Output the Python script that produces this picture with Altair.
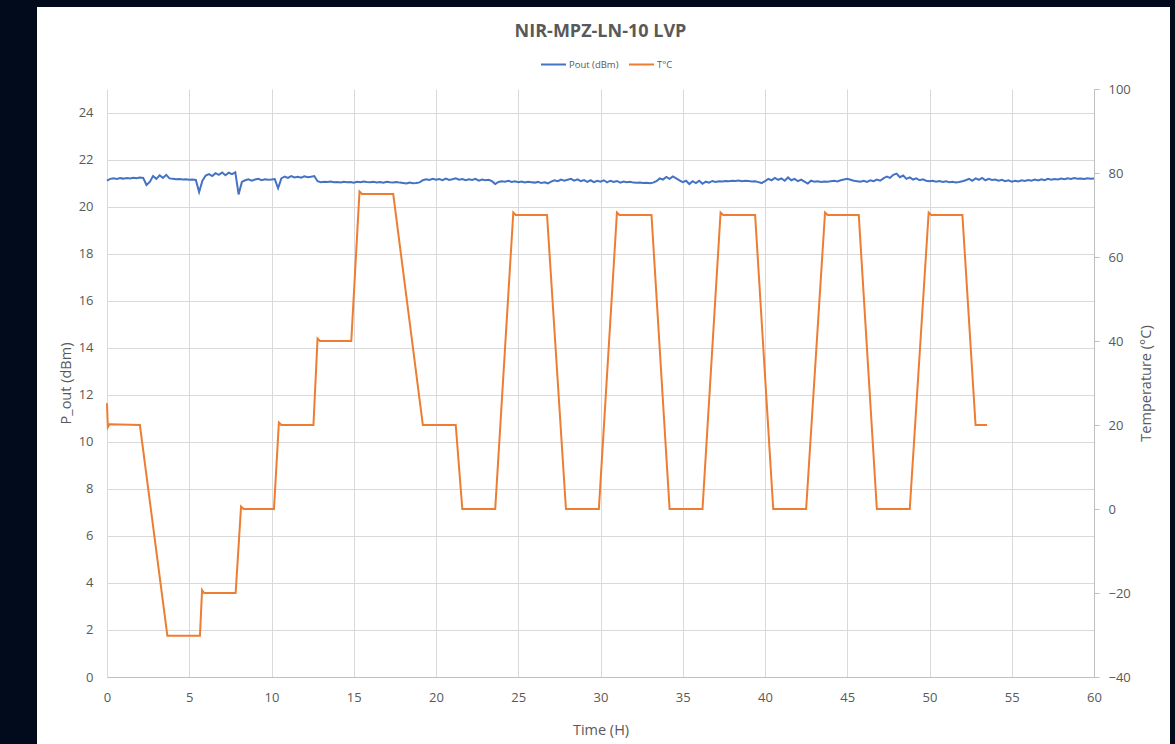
import altair as alt
import pandas as pd

# ---------------- data ----------------
title_text = "NIR-MPZ-LN-10 LVP"
series_names = ["Pout (dBm)", "T°C"]
series_colors = ["#4472C4", "#ED7D31"]

time_ticks = [0, 5, 10, 15, 20, 25, 30, 35, 40, 45, 50, 55, 60]
pout_ticks = [0, 2, 4, 6, 8, 10, 12, 14, 16, 18, 20, 22, 24]
temp_ticks = [-40, -20, 0, 20, 40, 60, 80, 100]

# Pout samples, one every 0.2 h from t = 0 to t = 60
pout_step_h = 0.2
pout_values = [
    21.10, 21.18, 21.20, 21.17, 21.21, 21.19, 21.22, 21.20, 21.23, 21.21,
    21.24, 21.22, 20.92, 21.05, 21.30, 21.18, 21.33, 21.22, 21.35, 21.20,
    21.18, 21.16, 21.17, 21.15, 21.16, 21.14, 21.15, 21.13, 20.62, 21.10,
    21.32, 21.38, 21.30, 21.42, 21.35, 21.45, 21.33, 21.44, 21.38, 21.46,
    20.52, 21.05, 21.12, 21.16, 21.10, 21.15, 21.18, 21.12, 21.16, 21.14,
    21.15, 21.17, 20.78, 21.20, 21.28, 21.22, 21.30, 21.24, 21.27, 21.23,
    21.29, 21.25, 21.27, 21.30, 21.08, 21.04, 21.06, 21.05, 21.07, 21.04,
    21.05, 21.03, 21.06, 21.04, 21.05, 21.02, 21.06, 21.04, 21.07, 21.05,
    21.04, 21.06, 21.03, 21.05, 21.02, 21.06, 21.04, 21.03, 21.05, 21.02,
    21.00, 20.98, 21.02, 20.99, 21.00, 21.03, 21.12, 21.16, 21.13, 21.18,
    21.14, 21.17, 21.12, 21.19, 21.13, 21.16, 21.20, 21.14, 21.17, 21.12,
    21.16, 21.13, 21.18, 21.10, 21.15, 21.12, 21.14, 21.08, 20.96, 21.05,
    21.08, 21.06, 21.10, 21.05, 21.08, 21.04, 21.07, 21.03, 21.06, 21.04,
    21.02, 21.05, 21.00, 21.03, 20.99, 21.06, 21.12, 21.08, 21.15, 21.10,
    21.14, 21.18, 21.10, 21.16, 21.08, 21.13, 21.05, 21.12, 21.04, 21.10,
    21.06, 21.12, 21.03, 21.10, 21.05, 21.09, 21.02, 21.07, 21.04, 21.06,
    21.02, 21.01, 21.02, 21.00, 21.01, 20.99, 21.02, 21.08, 21.20, 21.15,
    21.26, 21.18, 21.28, 21.20, 21.12, 21.04, 21.10, 20.96, 21.08, 21.00,
    21.10, 20.97, 21.06, 21.02, 21.09, 21.05, 21.08, 21.07, 21.09, 21.08,
    21.10, 21.09, 21.11, 21.08, 21.10, 21.09, 21.07, 21.08, 21.04, 21.00,
    21.08, 21.18, 21.12, 21.22, 21.14, 21.20, 21.10, 21.24, 21.12, 21.18,
    21.08, 21.15, 21.06, 20.98, 21.10, 21.06, 21.08, 21.05, 21.07, 21.06,
    21.08, 21.10, 21.07, 21.12, 21.15, 21.18, 21.14, 21.10, 21.08, 21.06,
    21.10, 21.05, 21.12, 21.08, 21.15, 21.10, 21.20, 21.28, 21.22, 21.35,
    21.40, 21.25, 21.32, 21.18, 21.24, 21.15, 21.20, 21.12, 21.16, 21.10,
    21.08, 21.10, 21.06, 21.09, 21.05, 21.08, 21.04, 21.06, 21.03, 21.05,
    21.08, 21.12, 21.18, 21.10, 21.20, 21.14, 21.22, 21.12, 21.18, 21.13,
    21.15, 21.10, 21.14, 21.08, 21.12, 21.06, 21.10, 21.07, 21.12, 21.09,
    21.13, 21.10, 21.15, 21.11, 21.16, 21.12, 21.18, 21.14, 21.17, 21.15,
    21.19, 21.16, 21.20, 21.17, 21.21, 21.18, 21.19, 21.17, 21.20, 21.18,
    21.19,
]

# Temperature profile (time in h, temperature in °C)
temp_time = [
    0.0, 0.05, 0.15, 2.0, 3.67, 5.65, 5.78, 5.9, 7.82, 8.15, 8.3, 10.15,
    10.45, 10.6, 12.55, 12.8, 12.95, 14.85, 15.35, 15.5, 17.4, 19.2, 21.2,
    21.6, 23.6, 24.7, 24.85, 26.75, 27.9, 29.9, 31.0, 31.15, 33.1, 34.2,
    36.2, 37.3, 37.45, 39.4, 40.5, 42.5, 43.65, 43.8, 45.7, 46.8, 48.8,
    49.95, 50.1, 52.0, 52.8, 53.5,
]
temp_value = [
    25.2, 19.5, 20.2, 20.0, -30.2, -30.2, -19.3, -20.0, -20.0, 0.6, 0.0, 0.0,
    20.6, 20.0, 20.0, 40.6, 40.0, 40.0, 75.6, 75.0, 75.0, 20.0, 20.0,
    0.0, 0.0, 70.6, 70.0, 70.0, 0.0, 0.0, 70.6, 70.0, 70.0, 0.0,
    0.0, 70.6, 70.0, 70.0, 0.0, 0.0, 70.6, 70.0, 70.0, 0.0, 0.0,
    70.6, 70.0, 70.0, 20.0, 20.0,
]

# ---------------- styling ----------------
TXT = "#595959"
GRID = "#D9D9D9"
AXIS_LINE = "#BFBFBF"
DARK = "#020B1C"
FONT = "Open Sans"
W, H = 987, 588

pout_df = pd.DataFrame({
    "t": [i * pout_step_h for i in range(len(pout_values))],
    "p": pout_values,
    "series": series_names[0],
})
temp_df = pd.DataFrame({"t": temp_time, "temp": temp_value, "series": series_names[1]})

color_scale = alt.Scale(domain=series_names, range=series_colors)
legend = alt.Legend(
    title=None, orient="none", legendX=433, legendY=-38, direction="horizontal",
    symbolType="stroke", symbolSize=625, symbolStrokeWidth=2,
    labelFontSize=9.5, labelColor=TXT, labelFont=FONT, labelOffset=2,
    columnPadding=6,
)

x_enc = alt.X(
    "t:Q",
    scale=alt.Scale(domain=[0, 60], nice=False, zero=False),
    axis=alt.Axis(
        values=time_ticks, title="Time (H)", grid=True, gridColor=GRID,
        domain=True, domainColor=AXIS_LINE, ticks=False, tickSize=0,
        labelPadding=14, labelFlush=False, labelFontSize=13,
        titleY=53, titleBaseline="middle", titleFontSize=14.5,
    ),
)

pout_line = alt.Chart(pout_df).mark_line(strokeWidth=2).encode(
    x=x_enc,
    y=alt.Y(
        "p:Q",
        scale=alt.Scale(domain=[0, 25], nice=False, zero=False),
        axis=alt.Axis(
            orient="left", values=pout_ticks, title="P_out (dBm)",
            grid=True, gridColor=GRID, domain=False, ticks=False, tickSize=0,
            labelPadding=14, labelFontSize=13,
            titleX=-41, titleY=H / 2, titleBaseline="middle", titleAngle=270,
            titleFontSize=14.5,
        ),
    ),
    color=alt.Color("series:N", scale=color_scale, legend=legend),
)

temp_line = alt.Chart(temp_df).mark_line(strokeWidth=2).encode(
    x=x_enc,
    y=alt.Y(
        "temp:Q",
        scale=alt.Scale(domain=[-40, 100], nice=False, zero=False),
        axis=alt.Axis(
            orient="right", values=temp_ticks, title="Temperature (°C)",
            grid=False, domain=True, domainColor=AXIS_LINE, ticks=True,
            tickSize=5, tickColor=AXIS_LINE, labelPadding=9, labelFontSize=13,
            titleX=52, titleY=H / 2, titleBaseline="middle", titleAngle=270,
            titleFontSize=14.5,
        ),
    ),
    color=alt.Color("series:N", scale=color_scale, legend=legend),
)

# dark frame around the white chart panel (decoration only)
frame_df = pd.DataFrame({"k": [0]})
left_strip = alt.Chart(frame_df).mark_rect(color=DARK).encode(
    x=alt.value(-107), x2=alt.value(-70), y=alt.value(-89), y2=alt.value(H + 67))
top_strip = alt.Chart(frame_df).mark_rect(color=DARK).encode(
    x=alt.value(-107), x2=alt.value(W + 81), y=alt.value(-89), y2=alt.value(-82))
right_strip = alt.Chart(frame_df).mark_rect(color=DARK).encode(
    x=alt.value(W + 76), x2=alt.value(W + 81), y=alt.value(-89), y2=alt.value(H + 67))

left_layer = alt.layer(left_strip, top_strip, right_strip, pout_line)

chart = (
    alt.layer(left_layer, temp_line)
    .resolve_scale(y="independent")
    .properties(
        width=W, height=H,
        padding={"left": 107, "top": 89, "right": 81, "bottom": 67},
        autosize=alt.AutoSizeParams(type="none"),
        background="#FFFFFF",
        title=alt.TitleParams(
            text=title_text, anchor="middle", frame="group", offset=-55,
            baseline="alphabetic", fontSize=18, fontWeight="bold",
            color=TXT, font=FONT,
        ),
    )
    .configure_view(strokeWidth=0)
    .configure_axis(labelColor=TXT, titleColor=TXT, labelFont=FONT,
                    titleFont=FONT, titleFontWeight="normal")
)

chart.save("out.html", embed_options={"renderer": "svg", "actions": False})
